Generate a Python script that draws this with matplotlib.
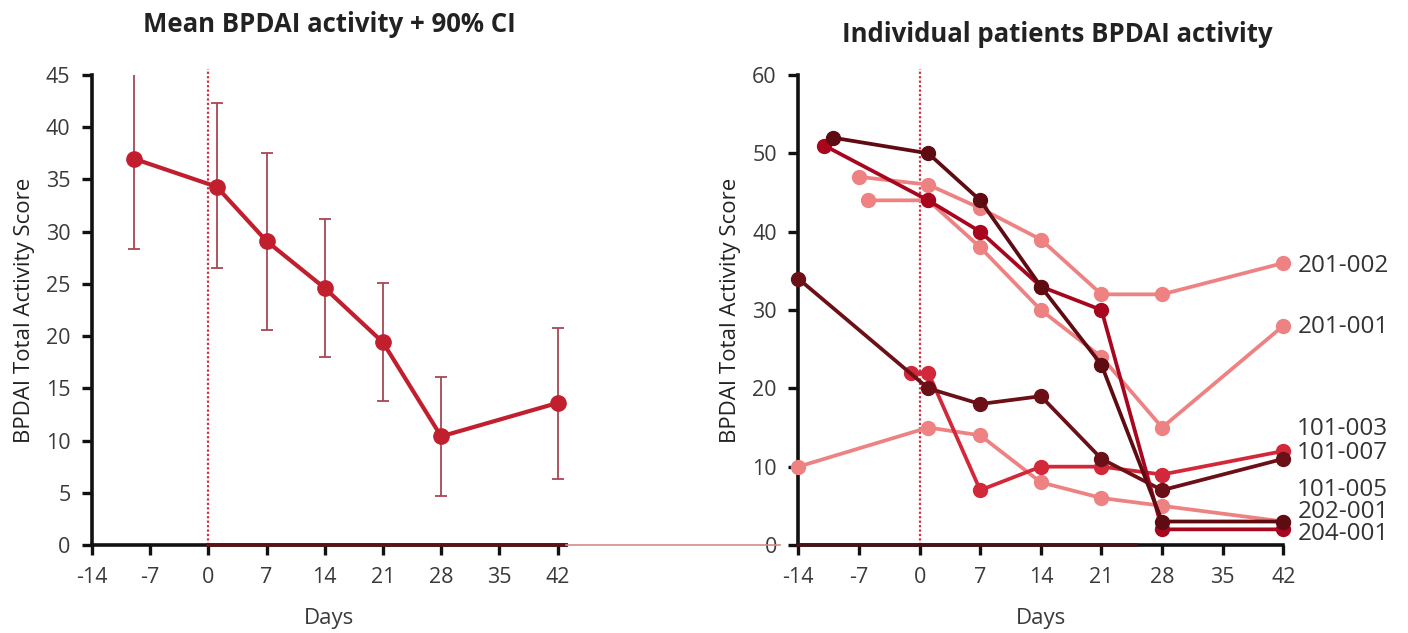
import matplotlib
matplotlib.use("Agg")
from matplotlib import pyplot as plt
from matplotlib.lines import Line2D

plt.rcParams['font.family'] = ['Open Sans', 'DejaVu Sans']

# left panel: mean + 90% CI
mean_days = [-9, 1, 7, 14, 21, 28, 42]
mean_vals = [37.0, 34.3, 29.1, 24.6, 19.4, 10.4, 13.6]
ci_low = [28.3, 26.5, 20.6, 18.0, 13.8, 4.7, 6.3]
ci_high = [45.8, 42.3, 37.5, 31.2, 25.1, 16.1, 20.8]

# right panel: individual patients
p1_days = [-14, 1, 7, 14, 21, 28, 42]
p1_vals = [34, 20, 18, 19, 11, 7, 11]
p2_days = [-1, 1, 7, 14, 21, 28, 42]
p2_vals = [22, 22, 7, 10, 10, 9, 12]
p3_days = [-10, 1, 7, 14, 21, 28, 42]
p3_vals = [52, 50, 44, 33, 23, 3, 3]
p4_days = [-11, 1, 7, 14, 21, 28, 42]
p4_vals = [51, 44, 40, 33, 30, 2, 2]
p5_days = [-7, 1, 7, 14, 21, 28, 42]
p5_vals = [47, 46, 43, 39, 32, 32, 36]
p6_days = [-6, 1, 7, 14, 21, 28, 42]
p6_vals = [44, 44, 38, 30, 24, 15, 28]
p7_days = [-14, 1, 7, 14, 21, 28, 42]
p7_vals = [10, 15, 14, 8, 6, 5, 3]

patient_labels = ['201-002', '201-001', '101-003', '101-007', '101-005', '202-001', '204-001']
label_y = [35.6, 27.8, 14.8, 11.8, 7.0, 4.2, 1.4]

xticks = [-14, -7, 0, 7, 14, 21, 28, 35, 42]
tick_color = '#3a3a3a'

fig = plt.figure(figsize=(14.08, 6.33), dpi=100)
ax1 = fig.add_axes([0.0653, 0.139, 0.3366, 0.7425])
ax2 = fig.add_axes([0.567, 0.139, 0.3445, 0.7425])


def style_axis(ax, ylim, yticks):
    ax.set_xlim(-14, 42)
    ax.set_ylim(*ylim)
    ax.set_xticks(xticks)
    ax.set_xticklabels([str(t) for t in xticks])
    ax.set_yticks(yticks)
    for s in ['top', 'right']:
        ax.spines[s].set_visible(False)
    for s in ['left', 'bottom']:
        ax.spines[s].set_linewidth(2.6)
        ax.spines[s].set_color('#111111')
    ax.tick_params(axis='both', width=2.4, length=7, labelsize=15.5,
                   labelcolor=tick_color, color='#111111')
    ax.tick_params(axis='x', pad=9)
    ax.tick_params(axis='y', pad=8.5)
    ax.set_xlabel('Days', fontsize=16, color=tick_color, labelpad=14)
    ax.set_ylabel('BPDAI Total Activity Score', fontsize=16, color='#222222', labelpad=8)
    ax.axvline(0, ymin=0, ymax=1.012, color='#d03040', lw=1.6, ls=(0, (1, 1)), clip_on=False, zorder=1)


# left
style_axis(ax1, (0, 45), range(0, 46, 5))
ax1.set_xlim(-14, 43)
err_lo = [m - l for m, l in zip(mean_vals, ci_low)]
err_hi = [h - m for m, h in zip(mean_vals, ci_high)]
ax1.errorbar(mean_days, mean_vals, yerr=[err_lo, err_hi], fmt='none',
             ecolor='#a84654', elinewidth=1.3, capsize=4, capthick=1.3, zorder=2)
ax1.plot(mean_days, mean_vals, color='#c11f2e', lw=3, marker='o', ms=11,
         zorder=3, clip_on=False)
ax1.plot([0, 43], [0, 0], color='#5a1418', lw=2.6, zorder=4, clip_on=False)
ax1.set_title('Mean BPDAI activity + 90% CI', fontsize=18.5, fontweight='bold',
              color='#222222', pad=31, x=0.5)

# right
style_axis(ax2, (0, 60), range(0, 61, 10))
series = [
    (p7_days, p7_vals, '#ee8282'),
    (p6_days, p6_vals, '#ee8282'),
    (p5_days, p5_vals, '#ee8282'),
    (p2_days, p2_vals, '#d3283a'),
    (p1_days, p1_vals, '#6c1017'),
    (p4_days, p4_vals, '#a8061f'),
    (p3_days, p3_vals, '#5e0b12'),
]
for d, v, c in series:
    ax2.plot(d, v, color=c, lw=2.7, marker='o', ms=10, clip_on=False, zorder=3)
ax2.plot([-14, 25], [0, 0], color='#4a1216', lw=2.6, zorder=4, clip_on=False)
for lab, y in zip(patient_labels, label_y):
    ax2.annotate(lab, xy=(42, y), xytext=(10, 0), textcoords='offset points',
                 va='center', ha='left', fontsize=17.5, color='#333333',
                 annotation_clip=False)
ax2.set_title('Individual patients BPDAI activity', fontsize=18.5, fontweight='bold',
              color='#222222', pad=24, x=0.533)

# faint connector along the zero line between panels
fig.add_artist(Line2D([566 / 1408, 780 / 1408], [1 - 545 / 633, 1 - 545 / 633],
                      color='#d68a8a', lw=1.2))

fig.savefig('out.png', dpi=100)
